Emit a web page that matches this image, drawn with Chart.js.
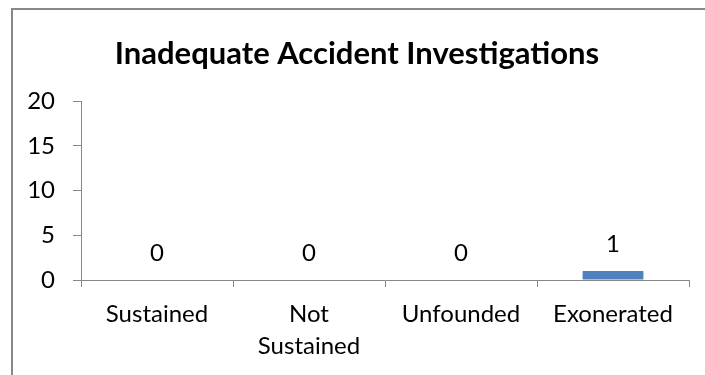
<!DOCTYPE html>
<html>
<head>
<meta charset="utf-8">
<title>Inadequate Accident Investigations</title>
<script src="https://cdn.jsdelivr.net/npm/chart.js@4.4.0/dist/chart.umd.min.js"></script>
<style>
  html, body { margin: 0; padding: 0; background: #fff; overflow: hidden; }
  #wrap { position: relative; width: 705px; height: 375px; }
  #frame {
    position: absolute; left: 11px; top: 8px; width: 800px; height: 500px;
    border-left: 2px solid #888; border-top: 2px solid #888;
  }
  #grafico { position: absolute; left: 0; top: 0; }
</style>
</head>
<body>
<div id="wrap">
  <div id="frame"></div>
  <canvas id="grafico" width="705" height="375"></canvas>
</div>
<script>
const categorias = ["Sustained", ["Not", "Sustained"], "Unfounded", "Exonerated"];
const valores = [0, 0, 0, 1];
const ticksY = [0, 5, 10, 15, 20];

const fuente = "Lato, 'Open Sans', sans-serif";
const gris = "#888888";

// escribe el valor encima de cada barra
const etiquetasValor = {
  id: "etiquetasValor",
  afterDatasetsDraw(chart) {
    const ctx = chart.ctx;
    const meta = chart.getDatasetMeta(0);
    ctx.save();
    ctx.font = "24px " + fuente;
    ctx.fillStyle = "#000";
    ctx.textAlign = "center";
    ctx.textBaseline = "alphabetic";
    meta.data.forEach((barra, i) => {
      ctx.fillText(String(valores[i]), barra.x, barra.y - 19);
    });
    ctx.restore();
  }
};

new Chart(document.getElementById("grafico"), {
  type: "bar",
  data: {
    labels: categorias,
    datasets: [{
      data: valores,
      backgroundColor: "#4F81BD",
      borderWidth: 0,
      categoryPercentage: 1,
      barPercentage: 0.4
    }]
  },
  options: {
    responsive: false,
    animation: false,
    devicePixelRatio: 1,
    layout: { padding: { left: 25, right: 16, top: 0, bottom: 0 } },
    scales: {
      x: {
        afterFit: s => { s.height = 95; },
        border: { color: gris, width: 1 },
        grid: { offset: true, drawOnChartArea: false, color: gris, tickLength: 7 },
        ticks: { color: "#000", font: { family: fuente, size: 24, lineHeight: 1.3 }, padding: 12, maxRotation: 0 }
      },
      y: {
        min: 0,
        max: 20,
        afterFit: s => { s.width = 56; },
        afterBuildTicks: s => { s.ticks = ticksY.map(v => ({ value: v })); },
        border: { color: gris, width: 1 },
        grid: { drawOnChartArea: false, color: gris, tickLength: 8 },
        ticks: { color: "#000", font: { family: fuente, size: 24 }, padding: 18 }
      }
    },
    plugins: {
      legend: { display: false },
      tooltip: { enabled: false },
      title: {
        display: true,
        text: "Inadequate Accident Investigations",
        color: "#000",
        font: { family: fuente, size: 31, weight: "bold", lineHeight: 1.2 },
        padding: { top: 35, bottom: 29 }
      }
    }
  },
  plugins: [etiquetasValor]
});
</script>
</body>
</html>
